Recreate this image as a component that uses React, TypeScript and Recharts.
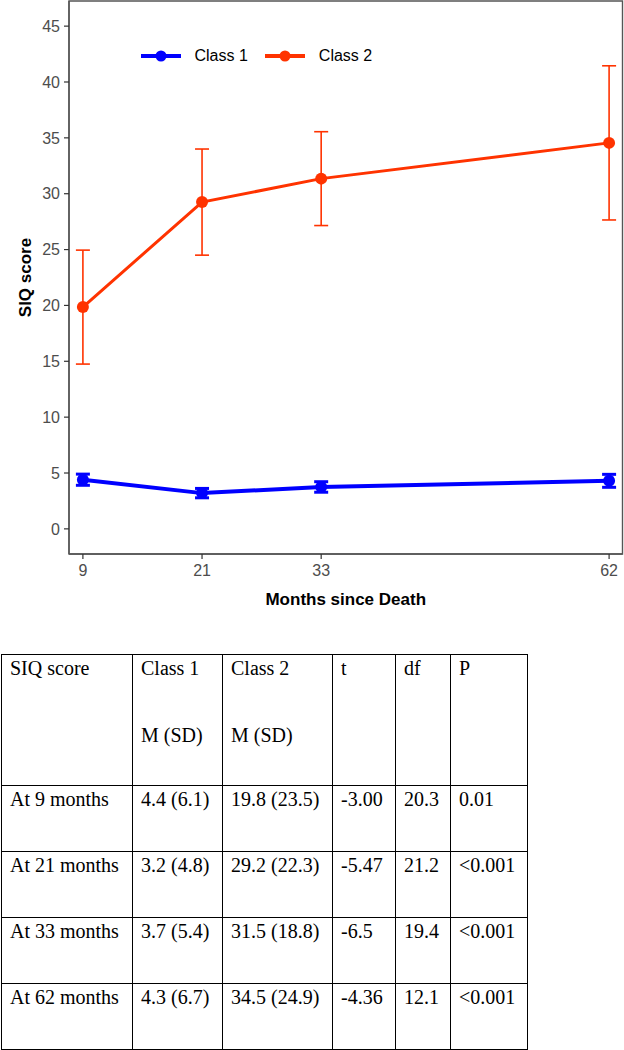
import React from 'react';
import { LineChart, Line, XAxis, YAxis, ErrorBar, Legend, ReferenceArea } from 'recharts';

// ---- chart data ----
const months = [9, 21, 33, 62];
const class1Mean = [4.4, 3.2, 3.75, 4.3];
const class1Err = [0.5, 0.42, 0.47, 0.58];
const class2Mean = [19.85, 29.25, 31.35, 34.55];
const class2Err = [5.1, 4.75, 4.2, 6.9];
const yTicks = [0, 5, 10, 15, 20, 25, 30, 35, 40, 45];
const xTicks = [9, 21, 33, 62];
const seriesNames = ['Class 1', 'Class 2'];
const X_DOMAIN: [number, number] = [7.6, 63.35];
const Y_DOMAIN: [number, number] = [-2.25, 47.25];

// ---- table data ----
const tableHeader = [['SIQ score'], ['Class 1', '', 'M (SD)'], ['Class 2', '', 'M (SD)'], ['t'], ['df'], ['P']];
const rowLabels = ['At 9 months', 'At 21 months', 'At 33 months', 'At 62 months'];
const class1Cells = ['4.4 (6.1)', '3.2 (4.8)', '3.7 (5.4)', '4.3 (6.7)'];
const class2Cells = ['19.8 (23.5)', '29.2 (22.3)', '31.5 (18.8)', '34.5 (24.9)'];
const tValues = ['-3.00', '-5.47', '-6.5', '-4.36'];
const dfValues = ['20.3', '21.2', '19.4', '12.1'];
const pValues = ['0.01', '<0.001', '<0.001', '<0.001'];

const BLUE = '#0000FF';
const RED = '#FF3300';
const AXIS = '#555555';
const SANS = "'Liberation Sans', Arial, Helvetica, sans-serif";
const SERIF = "'Liberation Serif', 'Times New Roman', serif";

const data = months.map((m, i) => ({
  month: m,
  c1: class1Mean[i],
  c1err: class1Err[i],
  c2: class2Mean[i],
  c2err: class2Err[i],
}));

const lineWidths: Record<string, number> = { c1: 4, c2: 3 };

const LegendContent = (props: any) => {
  const payload = props.payload || [];
  return (
    <div style={{ display: 'flex', alignItems: 'center', fontFamily: SANS, fontSize: 16, color: '#000' }}>
      {payload.map((entry: any, i: number) => (
        <div key={i} style={{ display: 'flex', alignItems: 'center', marginRight: 17 }}>
          <svg width={40} height={14} style={{ display: 'block' }}>
            <line x1={0} y1={7} x2={40} y2={7} stroke={entry.color} strokeWidth={4} />
            <circle cx={20} cy={7} r={5.5} fill={entry.color} />
          </svg>
          <span style={{ marginLeft: 14, lineHeight: '14px', whiteSpace: 'nowrap' }}>{entry.value}</span>
        </div>
      ))}
    </div>
  );
};

const cellStyle: React.CSSProperties = {
  border: '1px solid #000',
  padding: '0 0 0 8px',
  verticalAlign: 'top',
  whiteSpace: 'nowrap',
  overflow: 'hidden',
};

const Lines = ({ lines, pitch, height }: { lines: string[]; pitch: number; height: number }) => (
  <div style={{ height }}>
    {lines.map((l, i) => (
      <div key={i} style={{ height: pitch, lineHeight: '26px' }}>{l || '\u00a0'}</div>
    ))}
  </div>
);

export default function App() {
  const colWidths = [131, 90, 110, 63, 55, 77];
  const bodyRows = rowLabels.map((r, i) => [r, class1Cells[i], class2Cells[i], tValues[i], dfValues[i], pValues[i]]);
  return (
    <div style={{ position: 'absolute', left: 0, top: 0, width: 624, height: 1050, background: '#fff' }}>
      <LineChart
        width={624}
        height={620}
        data={data}
        margin={{ top: 1, right: 1.5, left: 0, bottom: 10 }}
        style={{ fontFamily: SANS }}
      >
        <XAxis
          dataKey="month"
          type="number"
          domain={X_DOMAIN}
          allowDataOverflow
          ticks={xTicks}
          height={56}
          tickSize={5}
          tickMargin={6}
          stroke={AXIS}
          axisLine={{ stroke: AXIS, strokeWidth: 1.4 }}
          tickLine={{ stroke: '#333', strokeWidth: 1.2 }}
          tick={{ fill: '#4D4D4D', fontSize: 16, fontFamily: SANS }}
          label={{ value: 'Months since Death', position: 'insideBottom', offset: 5, fill: '#000', fontSize: 17, fontWeight: 'bold', fontFamily: SANS }}
        />
        <YAxis
          type="number"
          domain={Y_DOMAIN}
          allowDataOverflow
          ticks={yTicks}
          width={69}
          tickSize={5}
          tickMargin={4}
          axisLine={{ stroke: AXIS, strokeWidth: 1.4 }}
          tickLine={{ stroke: '#333', strokeWidth: 1.2 }}
          tick={{ fill: '#4D4D4D', fontSize: 16, fontFamily: SANS }}
          label={{ value: 'SIQ score', angle: -90, position: 'insideLeft', offset: 25, fill: '#000', fontSize: 17, fontWeight: 'bold', fontFamily: SANS, style: { textAnchor: 'middle' } }}
        />
        <ReferenceArea
          x1={X_DOMAIN[0]}
          x2={X_DOMAIN[1]}
          y1={Y_DOMAIN[0]}
          y2={Y_DOMAIN[1]}
          fill="none"
          fillOpacity={0}
          stroke={AXIS}
          strokeWidth={1.4}
          ifOverflow="visible"
        />
        <Legend
          verticalAlign="middle"
          align="center"
          layout="horizontal"
          content={LegendContent}
          wrapperStyle={{ top: 49, left: 140.5, width: 'auto', height: 14 }}
        />
        <Line
          dataKey="c1"
          name={seriesNames[0]}
          stroke={BLUE}
          strokeWidth={lineWidths.c1}
          dot={{ r: 6, fill: BLUE, stroke: BLUE, strokeWidth: 0 }}
          activeDot={false}
          isAnimationActive={false}
        >
          <ErrorBar dataKey="c1err" width={7} strokeWidth={3} stroke={BLUE} direction="y" isAnimationActive={false} />
        </Line>
        <Line
          dataKey="c2"
          name={seriesNames[1]}
          stroke={RED}
          strokeWidth={lineWidths.c2}
          dot={{ r: 6, fill: RED, stroke: RED, strokeWidth: 0 }}
          activeDot={false}
          isAnimationActive={false}
        >
          <ErrorBar dataKey="c2err" width={7} strokeWidth={1.6} stroke={RED} direction="y" isAnimationActive={false} />
        </Line>
      </LineChart>

      <table
        style={{
          position: 'absolute',
          left: 1,
          top: 654,
          borderCollapse: 'collapse',
          tableLayout: 'fixed',
          width: colWidths.reduce((a, b) => a + b, 0),
          fontFamily: SERIF,
          fontSize: 20,
          color: '#000',
        }}
      >
        <colgroup>
          {colWidths.map((w, i) => (
            <col key={i} style={{ width: w }} />
          ))}
        </colgroup>
        <tbody>
          <tr>
            {tableHeader.map((h, i) => (
              <td key={i} style={cellStyle}>
                <Lines lines={h} pitch={33.5} height={130} />
              </td>
            ))}
          </tr>
          {bodyRows.map((row, ri) => (
            <tr key={ri}>
              {row.map((c, ci) => (
                <td key={ci} style={cellStyle}>
                  <Lines lines={[c]} pitch={33} height={65} />
                </td>
              ))}
            </tr>
          ))}
        </tbody>
      </table>
    </div>
  );
}
